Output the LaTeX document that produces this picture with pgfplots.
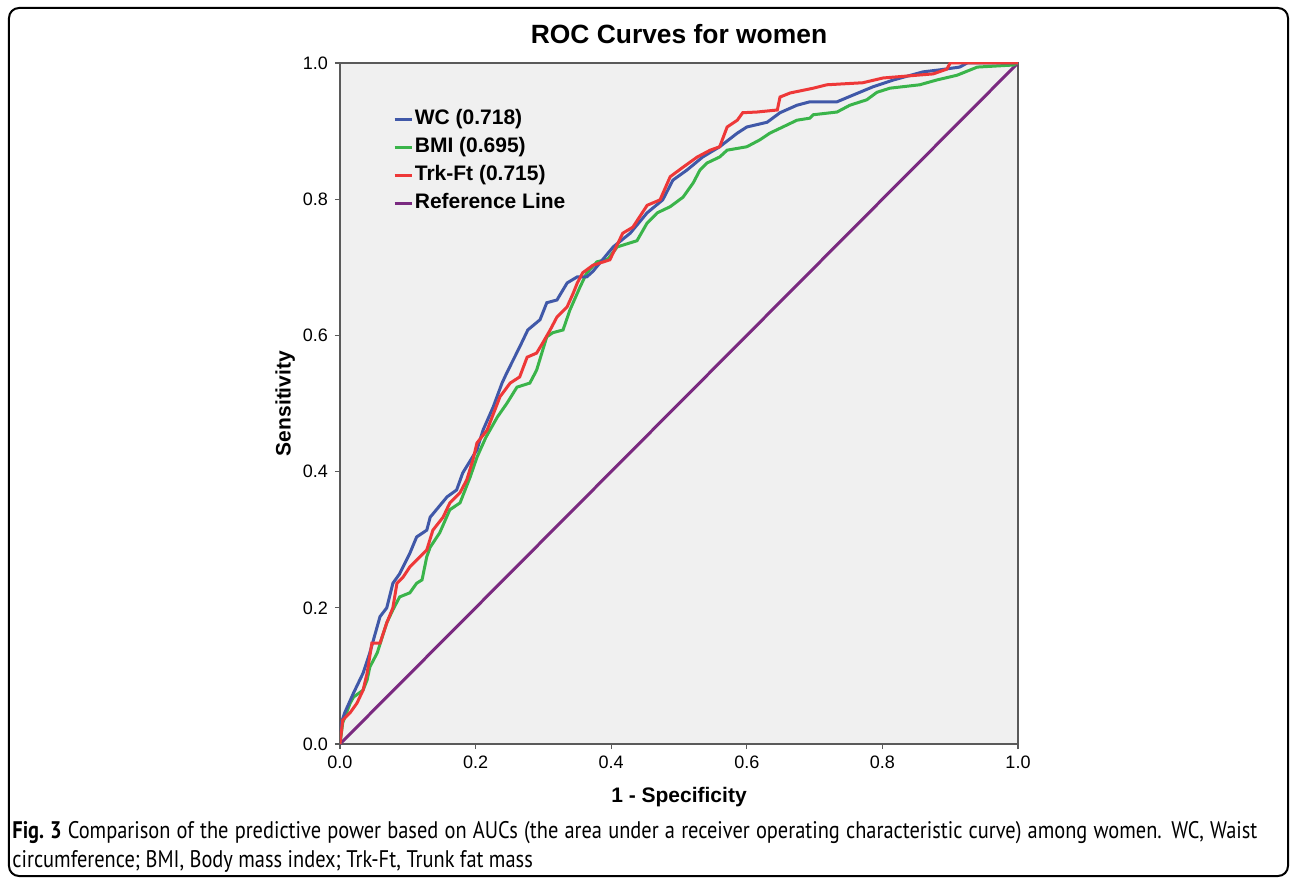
\documentclass[border=0pt]{standalone}
\usepackage{fontspec}
\setmainfont{Liberation Sans}
\newfontfamily\capfont[FakeStretch=0.85]{PT Sans}
\usepackage{pgfplots}
\pgfplotsset{compat=1.18}

\definecolor{wcblue}{RGB}{64,88,168}
\definecolor{bmigreen}{RGB}{58,180,74}
\definecolor{trkred}{RGB}{238,56,56}
\definecolor{refpurple}{RGB}{122,42,128}
\definecolor{plotbg}{RGB}{240,240,240}
\definecolor{axisgray}{RGB}{90,90,90}

\pgfplotstableread{
x y
0 0
0 0.025
0.007 0.046
0.02 0.075
0.034 0.104
0.044 0.134
0.059 0.187
0.069 0.2
0.078 0.236
0.088 0.25
0.103 0.28
0.113 0.304
0.128 0.314
0.133 0.333
0.158 0.363
0.172 0.373
0.181 0.398
0.202 0.432
0.211 0.461
0.226 0.495
0.239 0.530
0.246 0.545
0.265 0.583
0.277 0.608
0.295 0.623
0.305 0.648
0.320 0.652
0.335 0.677
0.35 0.686
0.364 0.686
0.373 0.694
0.403 0.73
0.428 0.75
0.453 0.78
0.476 0.799
0.491 0.828
0.512 0.843
0.535 0.862
0.56 0.877
0.586 0.897
0.60 0.906
0.63 0.913
0.649 0.927
0.674 0.938
0.693 0.943
0.733 0.943
0.757 0.953
0.786 0.965
0.816 0.975
0.86 0.987
0.885 0.99
0.914 0.994
0.925 1.0
1 1
}\wctable

\pgfplotstableread{
x y
0 0
0.004 0.031
0.015 0.06
0.02 0.069
0.034 0.079
0.04 0.094
0.044 0.113
0.055 0.134
0.069 0.178
0.078 0.197
0.088 0.216
0.103 0.222
0.113 0.236
0.121 0.241
0.128 0.275
0.133 0.289
0.147 0.31
0.162 0.344
0.177 0.354
0.192 0.392
0.202 0.421
0.215 0.45
0.232 0.48
0.246 0.5
0.261 0.524
0.28 0.53
0.29 0.549
0.305 0.598
0.314 0.604
0.329 0.608
0.339 0.637
0.354 0.671
0.364 0.692
0.379 0.708
0.395 0.712
0.409 0.73
0.438 0.739
0.453 0.765
0.468 0.78
0.487 0.789
0.506 0.803
0.521 0.824
0.531 0.843
0.541 0.853
0.56 0.862
0.571 0.872
0.6 0.877
0.619 0.887
0.634 0.897
0.653 0.906
0.674 0.916
0.693 0.919
0.698 0.924
0.733 0.928
0.752 0.938
0.777 0.946
0.792 0.957
0.811 0.963
0.855 0.968
0.88 0.975
0.91 0.982
0.94 0.994
0.993 0.997
1 1
}\bmitable

\pgfplotstableread{
x y
0 0
0.004 0.035
0.015 0.046
0.025 0.06
0.034 0.079
0.04 0.104
0.047 0.148
0.059 0.148
0.069 0.178
0.078 0.2
0.084 0.236
0.093 0.245
0.103 0.26
0.113 0.27
0.128 0.285
0.137 0.314
0.152 0.333
0.162 0.354
0.177 0.369
0.187 0.388
0.196 0.417
0.202 0.442
0.217 0.461
0.236 0.51
0.251 0.53
0.265 0.539
0.276 0.568
0.29 0.574
0.299 0.589
0.31 0.608
0.32 0.627
0.335 0.642
0.344 0.662
0.35 0.677
0.358 0.692
0.373 0.703
0.398 0.711
0.417 0.75
0.432 0.759
0.453 0.791
0.472 0.799
0.487 0.833
0.506 0.847
0.527 0.862
0.546 0.872
0.56 0.877
0.571 0.906
0.586 0.916
0.594 0.927
0.615 0.928
0.645 0.931
0.649 0.95
0.664 0.956
0.698 0.963
0.718 0.968
0.771 0.971
0.801 0.978
0.875 0.984
0.895 0.991
0.90 1.0
1 1
}\trktable

\begin{document}
\begin{tikzpicture}
\begin{axis}[
    at={(0,0)}, anchor=south west,
    width=339pt, height=340.5pt, scale only axis,
    xmin=0, xmax=1, ymin=0, ymax=1,
    xtick={0,0.2,0.4,0.6,0.8,1}, ytick={0,0.2,0.4,0.6,0.8,1},
    xtick pos=bottom, ytick pos=left,
    tick align=outside, major tick length=2.5pt,
    tick style={axisgray, line width=0.6pt},
    axis line style={axisgray, line width=0.6pt},
    axis background/.style={fill=plotbg},
    xticklabel style={/pgf/number format/.cd, fixed, fixed zerofill, precision=1, assume math mode=true},
    yticklabel style={/pgf/number format/.cd, fixed, fixed zerofill, precision=1, assume math mode=true},
    ticklabel style={font=\fontsize{9}{10}\selectfont},
    title={ROC Curves for women},
    title style={at={(axis description cs:0.5,1)}, anchor=base, yshift=3.5pt, font=\fontsize{13.2}{15}\selectfont\bfseries},
    xlabel={1 - Specificity},
    ylabel={Sensitivity},
    xlabel style={at={(axis description cs:0.5,-0.078)}, anchor=center, font=\fontsize{10.5}{12}\selectfont\bfseries},
    ylabel style={at={(axis description cs:-0.081,0.5)}, anchor=center, rotate=0, font=\fontsize{10.5}{12}\selectfont\bfseries},
    legend cell align=left,
    legend style={draw=none, fill=none, inner sep=0pt, at={(rel axis cs:0.078,0.931)}, anchor=north west,
        font=\fontsize{10.5}{12}\selectfont\bfseries, row sep=5pt, column sep=1pt,
        nodes={inner sep=0pt, text height=7pt, text depth=2pt}},
    legend image code/.code={\draw[#1, line width=1.3pt] (0pt,0pt) -- (8.5pt,0pt);},
]
\addlegendimage{wcblue}
\addlegendentry{WC (0.718)}
\addlegendimage{bmigreen}
\addlegendentry{BMI (0.695)}
\addlegendimage{trkred}
\addlegendentry{Trk-Ft (0.715)}
\addlegendimage{refpurple}
\addlegendentry{Reference Line}

\addplot[refpurple, line width=1.5pt, forget plot] coordinates {(0,0) (1,1)};
\addplot[bmigreen, line width=1.5pt, forget plot] table[x=x, y=y] {\bmitable};
\addplot[wcblue, line width=1.5pt, forget plot] table[x=x, y=y] {\wctable};
\addplot[trkred, line width=1.5pt, forget plot] table[x=x, y=y] {\trktable};
\end{axis}

\draw[line width=1pt, rounded corners=5pt] (-165.5pt,-66pt) rectangle (474pt,368pt);

\node[anchor=base west, inner sep=0pt, font=\capfont\fontsize{12}{14}\selectfont] at (-164pt,-47pt)
  {\makebox[622.5pt][s]{\textbf{Fig.~3} Comparison of the predictive power based on AUCs (the area under a receiver operating characteristic curve) among women. WC, Waist}};
\node[anchor=base west, inner sep=0pt, font=\capfont\fontsize{12}{14}\selectfont] at (-164pt,-61.5pt)
  {circumference; BMI, Body mass index; Trk-Ft, Trunk fat mass};

\pgfresetboundingbox
\path[use as bounding box] (-170pt,-67.5pt) rectangle (475pt,372pt);
\end{tikzpicture}
\end{document}
